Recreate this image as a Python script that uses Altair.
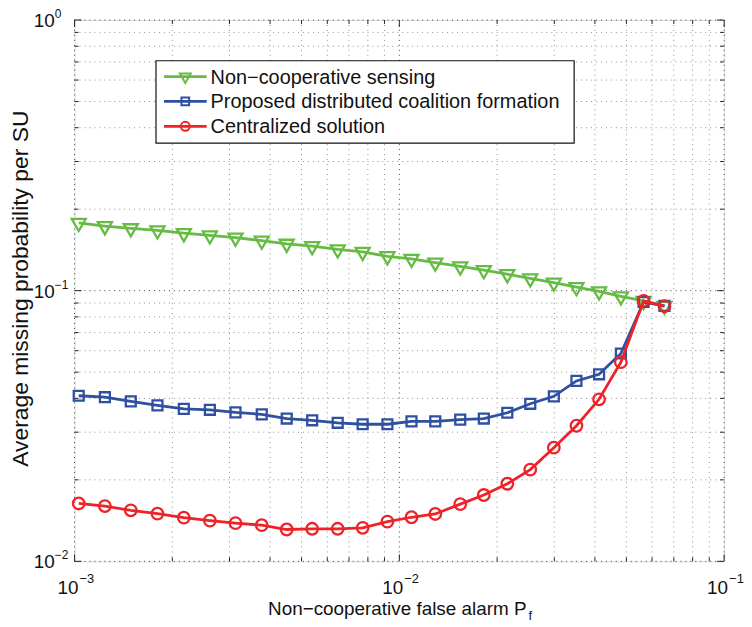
import altair as alt
import pandas as pd

# ---------------- data ----------------
pf = [0.00103, 0.00124, 0.00149, 0.00180, 0.00217, 0.00261, 0.00313, 0.00377,
      0.00450, 0.00539, 0.00646, 0.00771, 0.00919, 0.0109, 0.0129, 0.0154,
      0.0182, 0.0215, 0.0253, 0.0299, 0.0351, 0.0412, 0.0481, 0.0565, 0.0655]
noncoop = [0.178, 0.173, 0.170, 0.167, 0.163, 0.160, 0.157, 0.153, 0.149, 0.146,
           0.142, 0.139, 0.134, 0.131, 0.127, 0.123, 0.119, 0.115, 0.111, 0.107,
           0.103, 0.0994, 0.0953, 0.0916, 0.0878]
proposed = [0.0409, 0.0404, 0.0390, 0.0377, 0.0366, 0.0363, 0.0355, 0.0349, 0.0337,
            0.0332, 0.0325, 0.0321, 0.0321, 0.0329, 0.0329, 0.0334, 0.0337, 0.0354,
            0.0382, 0.0407, 0.0464, 0.0491, 0.0586, 0.0908, 0.0878]
central = [0.01636, 0.01600, 0.01543, 0.01500, 0.01450, 0.01414, 0.01384, 0.01360,
           0.01311, 0.01319, 0.01319, 0.01330, 0.01402, 0.01455, 0.01496, 0.01627,
           0.01758, 0.01935, 0.02182, 0.02630, 0.03169, 0.03969, 0.05443, 0.0916, 0.0876]

series_names = ["Non\u2212cooperative sensing",
                "Proposed distributed coalition formation",
                "Centralized solution"]
series_values = [noncoop, proposed, central]
series_colors = ["#66bb44", "#2f4fa0", "#ee2228"]

x_tick_values = [0.001, 0.01, 0.1]
x_tick_exps = ["\u22123", "\u22122", "\u22121"]
y_tick_values = [0.01, 0.1, 1.0]
y_tick_exps = ["\u22122", "\u22121", "0"]

x_minor = [0.002, 0.003, 0.004, 0.005, 0.006, 0.007, 0.008, 0.009,
           0.02, 0.03, 0.04, 0.05, 0.06, 0.07, 0.08, 0.09]
y_minor = [0.02, 0.03, 0.04, 0.05, 0.06, 0.07, 0.08, 0.09,
           0.2, 0.3, 0.4, 0.5, 0.6, 0.7, 0.8, 0.9]

x_title = "Non\u2212cooperative false alarm P"
x_title_sub = "f"
y_title = "Average missing probability per SU"

# ---------------- styling ----------------
W, H = 654, 545
FONT = "Liberation Sans"
INK = "#111111"
tri_down = "M-1,-0.577L1,-0.577L0,1.155Z"
shapes = [tri_down, "square", "circle"]
sizes = [200, 100, 135]

xscale = alt.Scale(type="log", domain=[1e-3, 1e-1], nice=False)
yscale = alt.Scale(type="log", domain=[1e-2, 1.0], nice=False)

def X(field="t"):
    return alt.X(f"{field}:Q", scale=xscale, axis=None)

def Y(field="t"):
    return alt.Y(f"{field}:Q", scale=yscale, axis=None)

layers = []

# dotted grid (major darker, minor lighter)
for vals, col in ((x_minor, "#8f8f8f"), (x_tick_values, "#404040")):
    layers.append(alt.Chart(pd.DataFrame({"t": vals})).mark_rule(
        color=col, strokeWidth=1, strokeDash=[1, 4]).encode(x=X(), y=alt.value(0), y2=alt.value(H)))
for vals, col in ((y_minor, "#8f8f8f"), (y_tick_values, "#404040")):
    layers.append(alt.Chart(pd.DataFrame({"t": vals})).mark_rule(
        color=col, strokeWidth=1, strokeDash=[1, 4]).encode(y=Y(), x=alt.value(0), x2=alt.value(W)))

# inward tick marks (all four sides)
def xticks(vals, length):
    d = alt.Chart(pd.DataFrame({"t": vals}))
    b = d.mark_rule(color="#222222", strokeWidth=1).encode(x=X(), y=alt.value(H), y2=alt.value(H - length))
    t = d.mark_rule(color="#222222", strokeWidth=1).encode(x=X(), y=alt.value(0), y2=alt.value(length))
    return [b, t]

def yticks(vals, length):
    d = alt.Chart(pd.DataFrame({"t": vals}))
    l = d.mark_rule(color="#222222", strokeWidth=1).encode(y=Y(), x=alt.value(0), x2=alt.value(length))
    r = d.mark_rule(color="#222222", strokeWidth=1).encode(y=Y(), x=alt.value(W), x2=alt.value(W - length))
    return [l, r]

layers += xticks(x_tick_values, 7) + xticks(x_minor, 4) + yticks(y_tick_values, 7) + yticks(y_minor, 4)

# series lines and markers
for name, vals, col, shp, sz in zip(series_names, series_values, series_colors, shapes, sizes):
    base = alt.Chart(pd.DataFrame({"pf": pf, "pm": vals, "series": name}))
    layers.append(base.mark_line(color=col, strokeWidth=2.8).encode(x=X("pf"), y=Y("pm")))
    layers.append(base.mark_point(shape=shp, size=sz, filled=False, color=col, strokeWidth=2.3,
                                  opacity=1).encode(x=X("pf"), y=Y("pm")))

# tick labels: "10" with superscript exponent
xl = alt.Chart(pd.DataFrame({"t": x_tick_values, "e": x_tick_exps, "b": ["10"] * 3}))
layers.append(xl.mark_text(font=FONT, fontSize=19, align="right", baseline="alphabetic", dx=4, color=INK).encode(
    x=X(), y=alt.value(H + 33), text="b:N"))
layers.append(xl.mark_text(font=FONT, fontSize=13, align="left", baseline="alphabetic", dx=5, color=INK).encode(
    x=X(), y=alt.value(H + 22), text="e:N"))

yl = alt.Chart(pd.DataFrame({"t": y_tick_values, "e": y_tick_exps, "b": ["10"] * 3}))
layers.append(yl.mark_text(font=FONT, fontSize=19, align="left", baseline="middle", dy=1, color=INK).encode(
    y=Y(), x=alt.value(-41), text="b:N"))
layers.append(yl.mark_text(font=FONT, fontSize=12, align="left", baseline="middle", dy=-6, color=INK).encode(
    y=Y(), x=alt.value(-20), text="e:N"))

# axis titles
tdf = alt.Chart(pd.DataFrame({"a": [x_title], "s": [x_title_sub], "y": [y_title]}))
layers.append(tdf.mark_text(font=FONT, fontSize=19, align="right", baseline="alphabetic", color=INK).encode(
    x=alt.value(455), y=alt.value(H + 54), text="a:N"))
layers.append(tdf.mark_text(font=FONT, fontSize=13, align="left", baseline="alphabetic", color=INK).encode(
    x=alt.value(457), y=alt.value(H + 59), text="s:N"))
layers.append(tdf.mark_text(font=FONT, fontSize=23, align="center", baseline="middle", angle=270, color=INK).encode(
    x=alt.value(-54), y=alt.value(H / 2 - 2), text="y:N"))

# manual legend
LX0, LX1, LY0, LY1 = 82, 503, 41, 124
layers.append(alt.Chart(pd.DataFrame({"k": [0]})).mark_rect(fill="white", stroke=INK, strokeWidth=1.2).encode(
    x=alt.value(LX0), x2=alt.value(LX1), y=alt.value(LY0), y2=alt.value(LY1)))
for i, (name, col, shp, sz) in enumerate(zip(series_names, series_colors, shapes, sizes)):
    ly = 57 + 25 * i
    ld = alt.Chart(pd.DataFrame({"label": [name]}))
    layers.append(ld.mark_rule(color=col, strokeWidth=2.8).encode(
        x=alt.value(90), x2=alt.value(133), y=alt.value(ly)))
    layers.append(ld.mark_point(shape=shp, size=sz * 0.6, filled=False, color=col, strokeWidth=2, opacity=1).encode(
        x=alt.value(111.5), y=alt.value(ly)))
    layers.append(ld.mark_text(font=FONT, fontSize=20, align="left", baseline="middle", color=INK).encode(
        x=alt.value(137), y=alt.value(ly + 1), text="label:N"))

chart = alt.layer(*layers).properties(
    width=W, height=H,
    autosize=alt.AutoSizeParams(type="none"),
    padding={"left": 67, "top": 10, "right": 20, "bottom": 60},
).configure_view(stroke=INK, strokeWidth=1.2).configure(font=FONT)

chart.save("out.html", embed_options={"renderer": "svg", "actions": False})
